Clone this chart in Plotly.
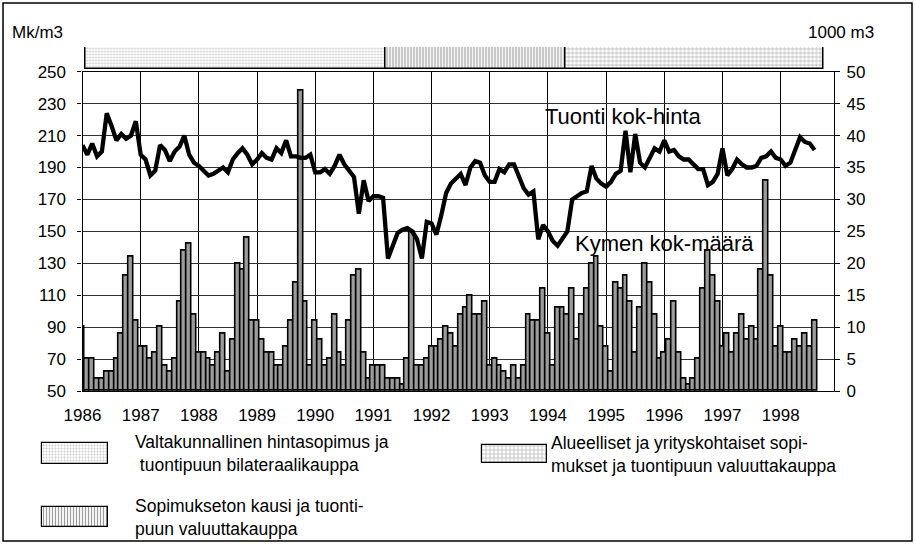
import plotly.graph_objects as go

# ---------------- data ----------------
years = list(range(1986, 1999))
months = list(range(152))  # month index: 0 = Jan 1986 ... 151 = Aug 1998

# Tuonti kok-hinta, Mk/m3 (left axis)
price = [
    204, 198, 205, 197, 200, 224, 216, 207, 211, 208, 210, 219,   # 1986
    198, 195, 185, 188, 204, 201, 194, 200, 203, 210, 198, 193,   # 1987
    191, 188, 185, 186, 188, 190, 187, 195, 199, 202, 198, 192,   # 1988
    195, 199, 196, 195, 202, 199, 207, 197, 197, 196, 196, 198,   # 1989
    187, 187, 189, 186, 191, 198, 192, 188, 184, 161, 182, 169,   # 1990
    172, 172, 171, 133, 141, 149, 151, 152, 150, 145, 133, 156,   # 1991
    155, 148, 160, 174, 180, 183, 186, 179, 190, 194, 193, 185,   # 1992
    181, 181, 189, 187, 192, 192, 185, 177, 173, 175, 145, 154,   # 1993
    150, 144, 141, 146, 150, 170, 172, 174, 175, 191, 183, 180,   # 1994
    178, 181, 186, 188, 213, 187, 211, 193, 190, 196, 202, 200,   # 1995
    207, 200, 201, 197, 195, 195, 192, 189, 189, 179, 181, 186,   # 1996
    202, 185, 189, 195, 192, 190, 190, 191, 196, 197, 200, 196,   # 1997
    195, 191, 193, 201, 209, 206, 205, 201,                       # 1998
]

# Kymen kok-maara, 1000 m3 (right axis)
volume = [
    10, 5, 5, 2, 2, 3, 3, 5, 9, 18, 21, 11,        # 1986
    7, 7, 5, 6, 10, 4, 3, 5, 14, 22, 23, 12,       # 1987
    6, 6, 5, 4, 6, 9, 3, 8, 20, 19, 24, 11,        # 1988
    11, 8, 6, 6, 4, 4, 7, 11, 17, 47, 14, 4,       # 1989
    11, 8, 4, 5, 12, 6, 4, 11, 18, 19, 6, 2,       # 1990
    4, 4, 4, 2, 2, 2, 1, 5, 25, 4, 4, 5,           # 1991
    7, 7, 8, 10, 9, 7, 12, 13, 15, 12, 12, 14,     # 1992
    4, 5, 4, 3, 2, 4, 2, 4, 12, 11, 11, 16,        # 1993
    9, 4, 13, 13, 12, 16, 8, 12, 16, 20, 21, 10,   # 1994
    7, 3, 17, 16, 18, 14, 6, 13, 20, 17, 12, 5,    # 1995
    6, 8, 14, 6, 2, 1, 2, 5, 16, 22, 18, 14,       # 1996
    7, 9, 6, 9, 12, 8, 10, 8, 19, 33, 18, 7,       # 1997
    10, 6, 6, 8, 7, 9, 7, 11,                      # 1998
]

# contract periods (top band), in month index units
period_labels = [
    "Valtakunnallinen hintasopimus ja<br>\u00a0tuontipuun bilateraalikauppa",
    "Sopimukseton kausi ja tuonti-<br>puun valuuttakauppa",
    "Alueelliset ja yrityskohtaiset sopi-<br>mukset ja tuontipuun valuuttakauppa",
]
period_start = [0.7, 62.5, 99.7]
period_end = [62.5, 99.7, 152.8]
period_patterns = [".", "|", "+"]
period_fg = ["#9a9a9a", "#3a3a3a", "#3a3a3a"]
period_size = [3, 3, 4]
period_solidity = [0.35, 0.4, 0.25]

# ---------------- layout helpers ----------------
W, H = 915, 544
FONT = "Liberation Sans, Arial, sans-serif"


def px(x):
    return x / W


def py(y):
    return 1 - y / H


fig = go.Figure()

# bars: volume
fig.add_trace(go.Bar(
    x=months, y=volume, width=1,
    marker=dict(color="#9c9c9c", line=dict(color="black", width=1.6)),
    xaxis="x", yaxis="y", showlegend=False,
))

# line: price
fig.add_trace(go.Scatter(
    x=months, y=price, mode="lines",
    line=dict(color="black", width=4.3),
    xaxis="x", yaxis="y2", showlegend=False,
))

# legend boxes (pixel coordinates of the legend layout)
leg_left = [42, 42, 482]
leg_right = [108, 108, 547]
leg_top = [443, 507, 445]
leg_bottom = [464, 527, 463]

for i in range(len(period_labels)):
    pat = dict(shape=period_patterns[i], fgcolor=period_fg[i], bgcolor="white",
               size=period_size[i], solidity=period_solidity[i])
    # top band of periods
    fig.add_trace(go.Bar(
        orientation="h", y=[0], x=[period_end[i] - period_start[i]],
        base=[period_start[i]], width=1,
        marker=dict(color="white", line=dict(color="black", width=1.5), pattern=pat),
        xaxis="x2", yaxis="y3", showlegend=False,
    ))
    # legend box
    fig.add_trace(go.Bar(
        orientation="h", y=[(leg_top[i] + leg_bottom[i]) / 2],
        x=[leg_right[i] - leg_left[i]], base=[leg_left[i]],
        width=leg_bottom[i] - leg_top[i],
        marker=dict(color="white", line=dict(color="black", width=1.2), pattern=pat),
        xaxis="x3", yaxis="y4", showlegend=False,
    ))

x_dom = [px(82.5), px(834)]
tickfont = dict(family=FONT, size=17, color="black")

fig.update_layout(
    width=W, height=H,
    margin=dict(l=0, r=0, t=0, b=0, autoexpand=False),
    paper_bgcolor="white", plot_bgcolor="rgba(0,0,0,0)",
    barmode="overlay", bargap=0, showlegend=False,
    font=dict(family=FONT, color="black"),
    xaxis=dict(
        domain=x_dom, range=[0, 155], anchor="y", automargin=False,
        tickmode="array", tickvals=[12 * i for i in range(len(years))],
        ticktext=[str(y) for y in years], tickfont=tickfont,
        ticks="", ticklabelstandoff=8,
        showgrid=True, gridcolor="black", gridwidth=1,
        showline=True, linecolor="black", linewidth=1.2, mirror=True,
        zeroline=False,
    ),
    yaxis=dict(
        domain=[py(391), py(71.7)], range=[0, 50], anchor="x", side="right",
        automargin=False,
        tickmode="linear", tick0=0, dtick=5, tickfont=tickfont,
        ticks="outside", ticklen=5, tickcolor="black", ticklabelstandoff=3,
        showgrid=True, gridcolor="#303030", gridwidth=1,
        showline=True, linecolor="black", linewidth=1.2, zeroline=False,
    ),
    yaxis2=dict(
        overlaying="y", side="left", range=[50, 250], anchor="x", automargin=False,
        tickmode="linear", tick0=50, dtick=20, tickfont=tickfont,
        ticks="outside", ticklen=4, tickcolor="black", ticklabelstandoff=8,
        showgrid=False, showline=True, linecolor="black", linewidth=1.2,
        zeroline=False,
    ),
    xaxis2=dict(domain=x_dom, range=[0, 155], anchor="y3", visible=False, automargin=False),
    yaxis3=dict(domain=[py(69), py(47)], range=[-0.5, 0.5], anchor="x2", visible=False,
                automargin=False),
    xaxis3=dict(domain=[0, 1], range=[0, W], anchor="y4", visible=False, automargin=False),
    yaxis4=dict(domain=[0, 1], range=[H, 0], anchor="x3", visible=False, automargin=False),
)

ann = []
ann.append(dict(text="Mk/m3", x=px(10), y=py(32), xanchor="left", yanchor="middle"))
ann.append(dict(text="1000 m3", x=px(876), y=py(32), xanchor="right", yanchor="middle"))
for a in ann:
    a.update(xref="paper", yref="paper", showarrow=False,
             font=dict(family=FONT, size=17, color="black"))

big = dict(family=FONT, size=22, color="black")
ann.append(dict(text="Tuonti kok-hinta", x=px(543), y=py(116), xref="paper", yref="paper",
                xanchor="left", yanchor="middle", showarrow=False, font=big))
ann.append(dict(text="Kymen kok-m\u00e4\u00e4r\u00e4", x=px(573), y=py(243), xref="paper", yref="paper",
                xanchor="left", yanchor="middle", showarrow=False, font=big))

leg_text_x = [133, 133, 549]
for lab, tx, t, b in zip(period_labels, leg_text_x, leg_top, leg_bottom):
    ann.append(dict(text=lab, x=px(tx), y=py((t + b) / 2), xref="paper", yref="paper",
                    xanchor="left", yanchor="middle", align="left", showarrow=False,
                    font=dict(family=FONT, size=17.5, color="black")))

fig.update_layout(annotations=ann)

fig.add_shape(type="rect", xref="paper", yref="paper",
              x0=px(3), x1=px(912), y0=py(541), y1=py(3),
              line=dict(color="black", width=1.5), fillcolor="rgba(0,0,0,0)", layer="above")

fig.write_html(
    "out.html",
    config={"displayModeBar": False},
    post_script="document.body.style.margin='0';document.body.style.overflow='hidden';",
)
